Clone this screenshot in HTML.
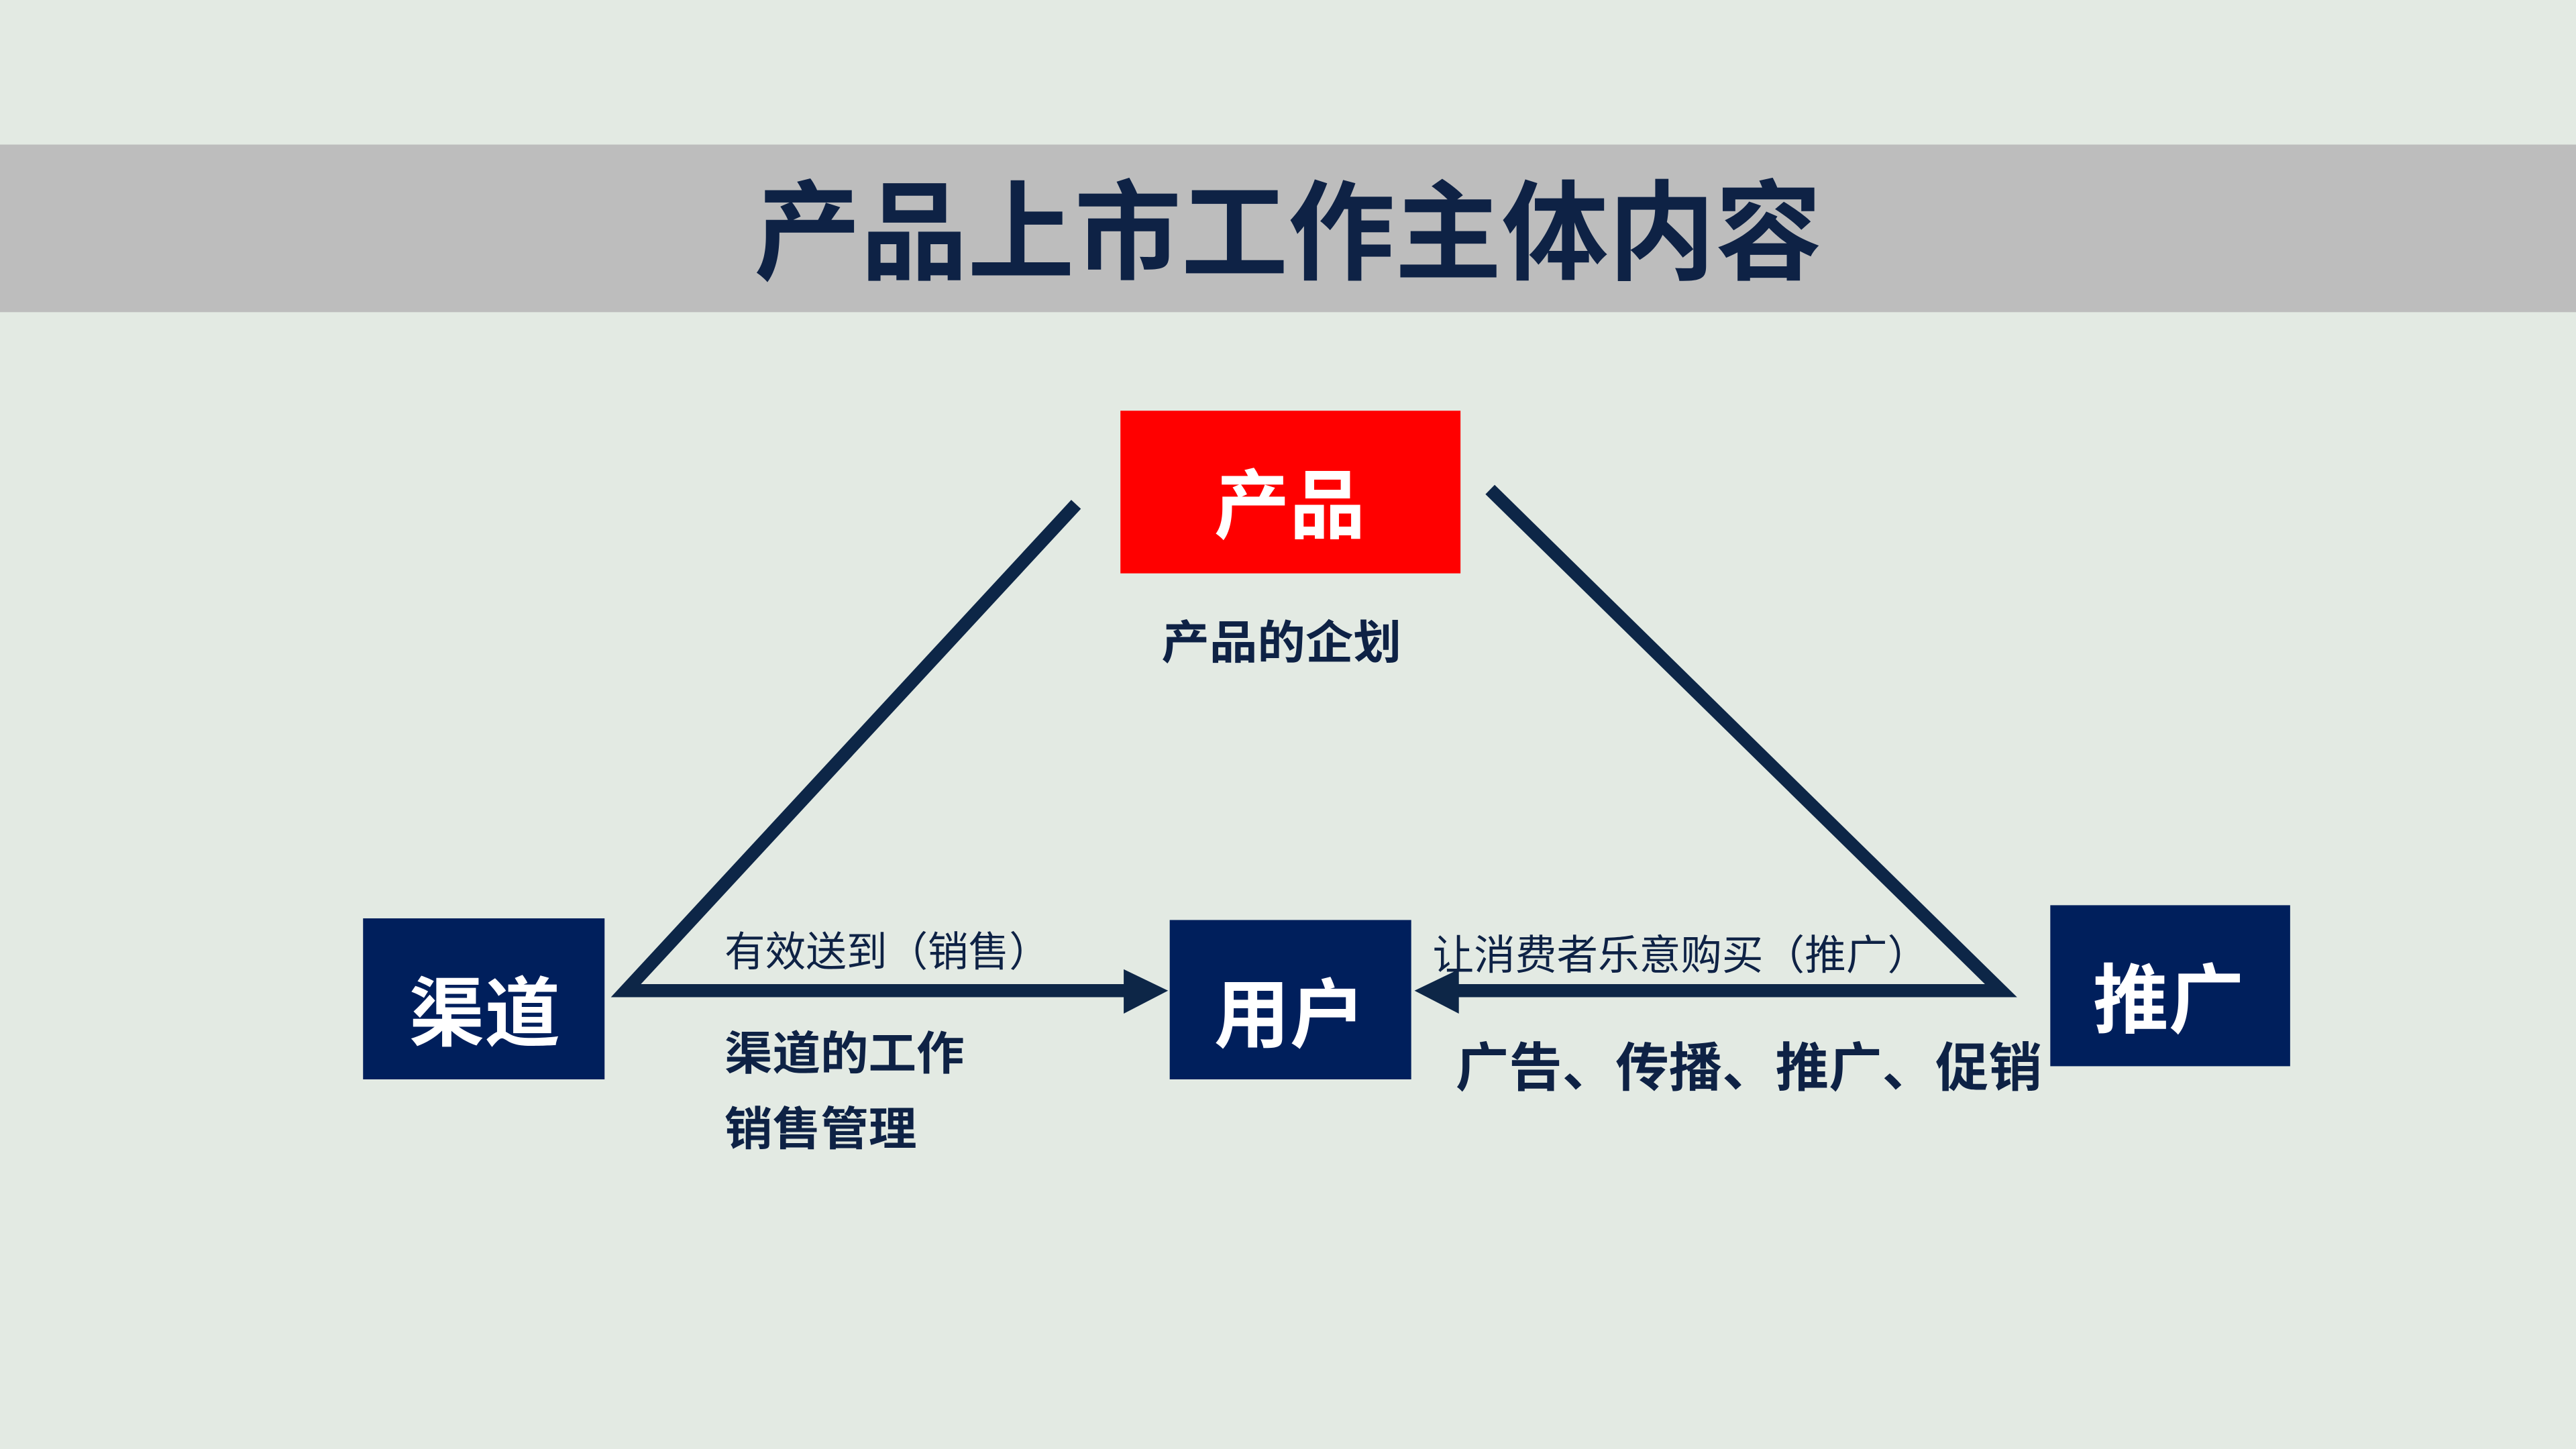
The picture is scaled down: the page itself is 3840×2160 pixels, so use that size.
<!DOCTYPE html>
<html><head><meta charset="utf-8"><style>
html,body{margin:0;padding:0;background:#e3eae3;}
svg{display:block;}
text{font-family:"Liberation Sans","Noto Sans CJK SC",sans-serif;}
</style></head><body>
<svg width="3840" height="2160" viewBox="0 0 1568 882" xmlns="http://www.w3.org/2000/svg">
<rect x="0" y="0" width="1568" height="882" fill="#e3eae3"/>
<rect x="0" y="88" width="1568" height="102" fill="#bdbdbd"/>
<text x="784" y="165" font-size="66" font-weight="bold" fill="#0e2245" text-anchor="middle" textLength="650" lengthAdjust="spacingAndGlyphs">产品上市工作主体内容</text>

<g stroke="#0d2647" stroke-width="8" fill="none">
<polyline points="655,307 381,603 686,603"/>
<polyline points="907,298 1218,603 886,603"/>
</g>
<polygon points="684,590 711,603 684,617" fill="#0d2647"/>
<polygon points="888,590 861,603 888,617" fill="#0d2647"/>

<rect x="682" y="250" width="207" height="99" fill="#ff0000"/>
<text x="785" y="324" font-size="46" font-weight="bold" fill="#fff" text-anchor="middle">产品</text>
<text x="780" y="401" font-size="28" font-weight="bold" fill="#0e2245" text-anchor="middle" textLength="146" lengthAdjust="spacingAndGlyphs">产品的企划</text>

<rect x="221" y="559" width="147" height="98" fill="#001f5c"/>
<text x="295" y="633" font-size="46" font-weight="bold" fill="#fff" text-anchor="middle">渠道</text>
<rect x="712" y="560" width="147" height="97" fill="#001f5c"/>
<text x="785" y="634" font-size="46" font-weight="bold" fill="#fff" text-anchor="middle">用户</text>
<rect x="1248" y="551" width="146" height="98" fill="#001f5c"/>
<text x="1320" y="625" font-size="46" font-weight="bold" fill="#fff" text-anchor="middle">推广</text>

<text x="441" y="588" font-size="25" fill="#0e2245" textLength="198" lengthAdjust="spacingAndGlyphs">有效送到（销售）</text>
<text x="872" y="590" font-size="25" fill="#0e2245" textLength="302" lengthAdjust="spacingAndGlyphs">让消费者乐意购买（推广）</text>
<text x="441" y="651" font-size="28" font-weight="bold" fill="#0e2245" textLength="146" lengthAdjust="spacingAndGlyphs">渠道的工作</text>
<text x="441" y="697" font-size="28" font-weight="bold" fill="#0e2245" textLength="117" lengthAdjust="spacingAndGlyphs">销售管理</text>
<text x="886" y="661" font-size="32" font-weight="bold" fill="#0e2245" textLength="357" lengthAdjust="spacingAndGlyphs">广告、传播、推广、促销</text>
</svg>
</body></html>
